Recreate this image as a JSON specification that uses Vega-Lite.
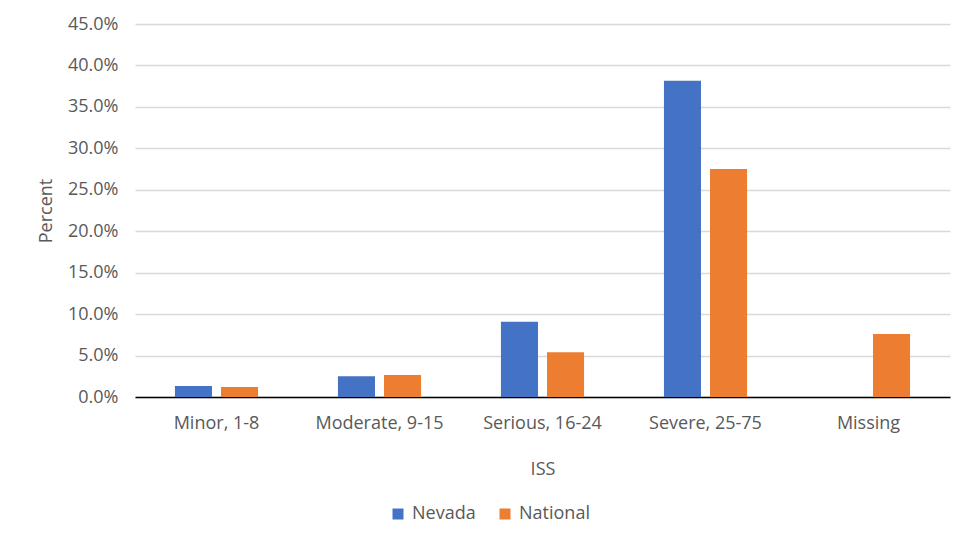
{
  "$schema": "https://vega.github.io/schema/vega-lite/v6.json",
  "width": 815,
  "height": 373,
  "autosize": {"type": "none"},
  "padding": {"left": 135, "right": 10, "top": 24, "bottom": 143},
  "background": "white",
  "data": {
    "values": [
      {"ISS": "Minor, 1-8", "Group": "Nevada", "Percent": 0.0133},
      {"ISS": "Minor, 1-8", "Group": "National", "Percent": 0.012},
      {"ISS": "Moderate, 9-15", "Group": "Nevada", "Percent": 0.025},
      {"ISS": "Moderate, 9-15", "Group": "National", "Percent": 0.0265},
      {"ISS": "Serious, 16-24", "Group": "Nevada", "Percent": 0.0908},
      {"ISS": "Serious, 16-24", "Group": "National", "Percent": 0.054},
      {"ISS": "Severe, 25-75", "Group": "Nevada", "Percent": 0.3815},
      {"ISS": "Severe, 25-75", "Group": "National", "Percent": 0.275},
      {"ISS": "Missing", "Group": "National", "Percent": 0.076}
    ]
  },
  "mark": {"type": "bar"},
  "encoding": {
    "x": {
      "field": "ISS",
      "type": "nominal",
      "sort": ["Minor, 1-8", "Moderate, 9-15", "Serious, 16-24", "Severe, 25-75", "Missing"],
      "scale": {"paddingInner": 0.49, "paddingOuter": 0.245},
      "axis": {
        "title": "ISS",
        "labelAngle": 0,
        "ticks": false,
        "domainColor": "#000000",
        "domainWidth": 1.5,
        "labelPadding": 17,
        "titlePadding": 28,
        "labelFontSize": 18,
        "titleFontSize": 18,
        "labelColor": "#595959",
        "titleColor": "#595959",
        "titleFontWeight": "normal",
        "labelFont": "Open Sans",
        "titleFont": "Open Sans"
      }
    },
    "xOffset": {
      "field": "Group",
      "type": "nominal",
      "sort": ["Nevada", "National"],
      "scale": {"domain": ["Nevada", "National"], "paddingInner": 0.196, "paddingOuter": 0}
    },
    "y": {
      "field": "Percent",
      "type": "quantitative",
      "scale": {"domain": [0, 0.45], "nice": false},
      "axis": {
        "title": "Percent",
        "format": ".1%",
        "values": [0, 0.05, 0.1, 0.15, 0.2, 0.25, 0.3, 0.35, 0.4, 0.45],
        "domain": false,
        "ticks": false,
        "gridColor": "#d9d9d9",
        "gridWidth": 1.3,
        "labelPadding": 17,
        "titlePadding": 12,
        "labelFontSize": 18,
        "titleFontSize": 18,
        "labelColor": "#595959",
        "titleColor": "#595959",
        "titleFontWeight": "normal",
        "labelFont": "Open Sans",
        "titleFont": "Open Sans"
      }
    },
    "color": {
      "field": "Group",
      "type": "nominal",
      "scale": {"domain": ["Nevada", "National"], "range": ["#4472C4", "#ED7D31"]},
      "legend": {
        "title": null,
        "orient": "none",
        "legendX": 254,
        "legendY": 481,
        "direction": "horizontal",
        "padding": 0,
        "symbolType": "square",
        "symbolSize": 121,
        "symbolStrokeWidth": 0,
        "labelFontSize": 18,
        "labelColor": "#595959",
        "labelFont": "Open Sans",
        "columnPadding": 20,
        "labelOffset": 5
      }
    }
  },
  "config": {
    "view": {"stroke": null},
    "axis": {"labelOverlap": false}
  }
}
